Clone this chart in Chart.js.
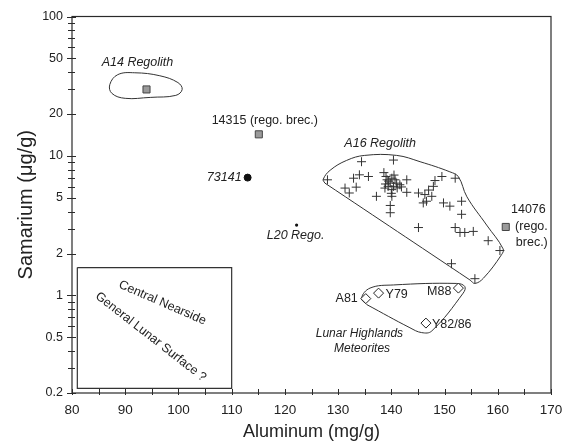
<!DOCTYPE html>
<html>
<head>
<meta charset="utf-8">
<script src="https://cdn.jsdelivr.net/npm/chart.js@4/dist/chart.umd.min.js"></script>
<style>
  html, body { margin: 0; padding: 0; background: #fff; }
  #plot { display: block; }
</style>
</head>
<body>
<canvas id="plot" width="573" height="448"></canvas>
<script>
// ---- Apollo 16 regolith samples: Al (mg/g) and Sm (µg/g) ----
const a16Al = [128.0, 134.4, 140.4, 132.9, 134.0, 135.7, 131.3, 132.1, 133.4, 137.2,
               138.6, 139.2, 139.8, 140.1, 139.4, 140.4, 141.0, 141.6, 142.9, 142.9,
               138.8, 139.0, 140.7, 141.1, 140.1, 140.1, 139.8, 139.8, 145.1, 146.3,
               146.0, 146.6, 147.6, 147.9, 148.2, 149.5, 152.0, 149.8, 151.0, 153.2,
               153.2, 145.1, 152.0, 152.9, 153.8, 155.4, 158.2, 160.4, 151.3, 155.7,
               139.5, 140.5, 141.9, 138.9, 140.0, 147.0];
const a16Sm = [6.75, 9.1, 9.35, 6.93, 7.33, 7.13, 5.89, 5.43, 5.98, 5.14,
               7.6, 6.75, 6.39, 6.93, 6.06, 6.06, 6.39, 6.22, 6.75, 5.49,
               5.89, 7.13, 6.75, 5.9, 5.74, 5.14, 4.42, 3.92, 5.43, 5.29,
               4.61, 4.74, 5.14, 6.06, 6.67, 7.13, 6.93, 4.61, 4.37, 4.74,
               3.82, 3.07, 3.07, 2.83, 2.83, 2.88, 2.47, 2.10, 1.69, 1.32,
               6.6, 7.3, 6.0, 6.3, 5.4, 5.7];

// ---- Apollo 14 regolith (mean) ----
const a14Al = [94.0];
const a14Sm = [30.0];

// ---- Regolith breccias 14315 and 14076 ----
const brecciaNames = ['14315', '14076'];
const brecciaAl = [115.1, 161.5];
const brecciaSm = [14.3, 3.1];

// ---- Sample 73141 and Luna 20 regolith ----
const s73141Al = [113.0];
const s73141Sm = [7.0];
const l20Al = [122.2];
const l20Sm = [3.2];

// ---- Lunar highlands meteorites ----
const meteoriteNames = ['A81', 'Y79', 'M88', 'Y82/86'];
const meteoriteAl = [135.2, 137.6, 152.6, 146.5];
const meteoriteSm = [0.95, 1.04, 1.13, 0.634];

// ---- Field outlines (Al, Sm vertices) ----
const a14FieldAl = [94.7, 90.0, 87.5, 87.1, 88.6, 91.8, 96.5, 99.9, 100.7, 99.5, 94.7];
const a14FieldSm = [26.3, 25.9, 28.1, 32.5, 38.3, 39.5, 37.6, 33.6, 30.0, 27.2, 26.3];
const a16FieldAl = [127.5, 127.2, 128.5, 131.6, 135.0, 141.0, 145.4, 151.0, 152.6, 154.2,
                    157.9, 161.0, 160.7, 157.3, 155.7, 154.8, 127.5];
const a16FieldSm = [6.4, 6.8, 7.9, 9.3, 10.1, 10.1, 9.1, 7.7, 7.1, 5.1,
                    3.2, 2.16, 1.96, 1.33, 1.22, 1.29, 6.4];
const metFieldAl = [135.4, 134.4, 136.0, 140.4, 152.3, 153.8, 153.5, 147.6, 145.7, 143.5, 135.4];
const metFieldSm = [0.86, 0.957, 1.13, 1.19, 1.22, 1.16, 1.04, 0.557, 0.542, 0.587, 0.86];

// ---- Inset frame (Central Nearside / General Lunar Surface) ----
const insetAl = [81, 110, 110, 81, 81];
const insetSm = [1.585, 1.585, 0.216, 0.216, 1.585];

// ---- Axis ticks ----
const xTicks = [80, 85, 90, 95, 100, 105, 110, 115, 120, 125, 130, 135, 140, 145, 150, 155, 160, 165, 170];
const xLabels = [80, 90, 100, 110, 120, 130, 140, 150, 160, 170];
const yTicks = [0.2, 0.3, 0.4, 0.5, 0.6, 0.7, 0.8, 0.9, 1, 2, 3, 4, 5, 6, 7, 8, 9,
                10, 20, 30, 40, 50, 60, 70, 80, 90, 100];
const yLabels = [0.2, 0.5, 1, 2, 5, 10, 20, 50, 100];

const FONT = '"Liberation Sans", Arial, Helvetica, sans-serif';
const INK = '#222';

const pts = (xs, ys) => xs.map((v, i) => ({ x: v, y: ys[i] }));

// Text notes anchored to data positions
const notes = [
  { text: 'A14 Regolith', at: [92.3, 46.5], italic: true, size: 12.5 },
  { text: '14315 (rego. brec.)', at: [brecciaAl[0], brecciaSm[0]], dy: -14, dx: 6, size: 12.5 },
  { text: '73141', at: [s73141Al[0], s73141Sm[0]], dx: -6, align: 'right', italic: true, size: 12.5 },
  { text: 'L20 Rego.', at: [l20Al[0], l20Sm[0]], dy: 10, dx: -1, italic: true, size: 12.5 },
  { text: 'A16 Regolith', at: [137.9, 12.3], italic: true, size: 12.5 },
  { text: brecciaNames[1], at: [brecciaAl[1], brecciaSm[1]], dx: 40, dy: -17, align: 'right', size: 12.5 },
  { text: '(rego.', at: [brecciaAl[1], brecciaSm[1]], dx: 42, dy: 0, align: 'right', size: 12.5 },
  { text: 'brec.)', at: [brecciaAl[1], brecciaSm[1]], dx: 42, dy: 16, align: 'right', size: 12.5 },
  { text: meteoriteNames[0], at: [meteoriteAl[0], meteoriteSm[0]], dx: -8, dy: 0, align: 'right', size: 12.5 },
  { text: meteoriteNames[1], at: [meteoriteAl[1], meteoriteSm[1]], dx: 7, dy: 1, align: 'left', size: 12.5 },
  { text: meteoriteNames[2], at: [meteoriteAl[2], meteoriteSm[2]], dx: -7, dy: 3, align: 'right', size: 12.5 },
  { text: meteoriteNames[3], at: [meteoriteAl[3], meteoriteSm[3]], dx: 6, dy: 1, align: 'left', size: 12.5 },
  { text: 'Lunar Highlands', at: [134.0, 0.53], italic: true, size: 12 },
  { text: 'Meteorites', at: [134.5, 0.415], italic: true, size: 12 },
  { text: 'Central Nearside', at: [97.0, 0.885], rot: 23.5, size: 12.5 },
  { text: 'General Lunar Surface ?', at: [94.8, 0.505], rot: 38, size: 12.5 }
];

const notesPlugin = {
  id: 'notes',
  afterDatasetsDraw(chart) {
    const { ctx, scales: { x, y } } = chart;
    notes.forEach(n => {
      const px = x.getPixelForValue(n.at[0]) + (n.dx || 0);
      const py = y.getPixelForValue(n.at[1]) + (n.dy || 0);
      ctx.save();
      ctx.translate(px, py);
      if (n.rot) ctx.rotate(n.rot * Math.PI / 180);
      ctx.font = (n.italic ? 'italic ' : '') + n.size + 'px ' + FONT;
      ctx.textAlign = n.align || 'center';
      ctx.textBaseline = 'middle';
      ctx.fillStyle = INK;
      ctx.fillText(n.text, 0, 0);
      ctx.restore();
    });
  }
};

// Plot frame plus tick marks that cross the axes
const framePlugin = {
  id: 'frame',
  afterDraw(chart) {
    const { ctx, chartArea: a, scales: { x, y } } = chart;
    ctx.save();
    ctx.strokeStyle = '#2a2a2a';
    ctx.lineWidth = 1.2;
    ctx.strokeRect(a.left, a.top, a.right - a.left, a.bottom - a.top);
    ctx.lineWidth = 1;
    ctx.beginPath();
    xTicks.forEach(v => {
      const p = Math.round(x.getPixelForValue(v)) + 0.5;
      ctx.moveTo(p, a.bottom - 4);
      ctx.lineTo(p, a.bottom + 2);
    });
    yTicks.forEach(v => {
      const p = Math.round(y.getPixelForValue(v)) + 0.5;
      const major = yLabels.includes(v);
      ctx.moveTo(a.left - (major ? 5 : 4), p);
      ctx.lineTo(a.left + (major ? 4 : 3), p);
    });
    ctx.stroke();
    ctx.restore();
  }
};

const outline = (data) => ({
  data, showLine: true, tension: 0.4, pointRadius: 0, borderColor: '#333',
  borderWidth: 1, fill: false
});

new Chart(document.getElementById('plot'), {
  type: 'scatter',
  data: {
    datasets: [
      { data: pts(a16Al, a16Sm), pointStyle: 'cross', pointRadius: 4.5, borderColor: '#333',
        borderWidth: 1, backgroundColor: '#333' },
      { data: pts(a14Al, a14Sm), pointStyle: 'rect', pointRadius: 5, backgroundColor: '#9a9a9a',
        borderColor: '#444', borderWidth: 1 },
      { data: pts(brecciaAl, brecciaSm), pointStyle: 'rect', pointRadius: 5, backgroundColor: '#9a9a9a',
        borderColor: '#444', borderWidth: 1 },
      { data: pts(s73141Al, s73141Sm), pointStyle: 'circle', pointRadius: 3.5, backgroundColor: '#111',
        borderColor: '#111', borderWidth: 1 },
      { data: pts(l20Al, l20Sm), pointStyle: 'circle', pointRadius: 1.6, backgroundColor: '#111',
        borderColor: '#111', borderWidth: 0 },
      { data: pts(meteoriteAl, meteoriteSm), pointStyle: 'rectRot', pointRadius: 5, backgroundColor: '#fff',
        borderColor: '#222', borderWidth: 1 },
      outline(pts(a14FieldAl, a14FieldSm)),
      outline(pts(a16FieldAl, a16FieldSm)),
      outline(pts(metFieldAl, metFieldSm)),
      { data: pts(insetAl, insetSm), showLine: true, tension: 0, pointRadius: 0,
        borderColor: '#333', borderWidth: 1.2, fill: false }
    ]
  },
  options: {
    responsive: false,
    animation: false,
    events: [],
    layout: { padding: { top: 11, right: 22, left: 0, bottom: 0 } },
    plugins: { legend: { display: false }, tooltip: { enabled: false } },
    scales: {
      x: {
        type: 'linear', min: 80, max: 170,
        afterFit(s) { s.height = 55; },
        afterBuildTicks(s) { s.ticks = xTicks.map(v => ({ value: v })); },
        grid: { display: false, drawTicks: false },
        border: { display: false },
        ticks: {
          autoSkip: false, maxRotation: 0, padding: 9, color: INK,
          font: { family: FONT, size: 13.5 },
          callback: v => xLabels.includes(v) ? String(v) : ''
        },
        title: {
          display: true, text: 'Aluminum (mg/g)', color: INK,
          font: { family: FONT, size: 18 }, padding: { top: 0, bottom: 5 }
        }
      },
      y: {
        type: 'logarithmic', min: 0.2, max: 100,
        afterFit(s) { s.width = 72; },
        afterBuildTicks(s) { s.ticks = yTicks.map(v => ({ value: v })); },
        grid: { display: false, drawTicks: false },
        border: { display: false },
        ticks: {
          autoSkip: false, padding: 9, color: INK,
          font: { family: FONT, size: 12.5 },
          callback: v => yLabels.includes(v) ? String(v) : ''
        },
        title: {
          display: true, text: 'Samarium (μg/g)', color: INK,
          font: { family: FONT, size: 20 }, padding: { top: 14, bottom: 0 }
        }
      }
    }
  },
  plugins: [notesPlugin, framePlugin]
});
</script>
</body>
</html>
